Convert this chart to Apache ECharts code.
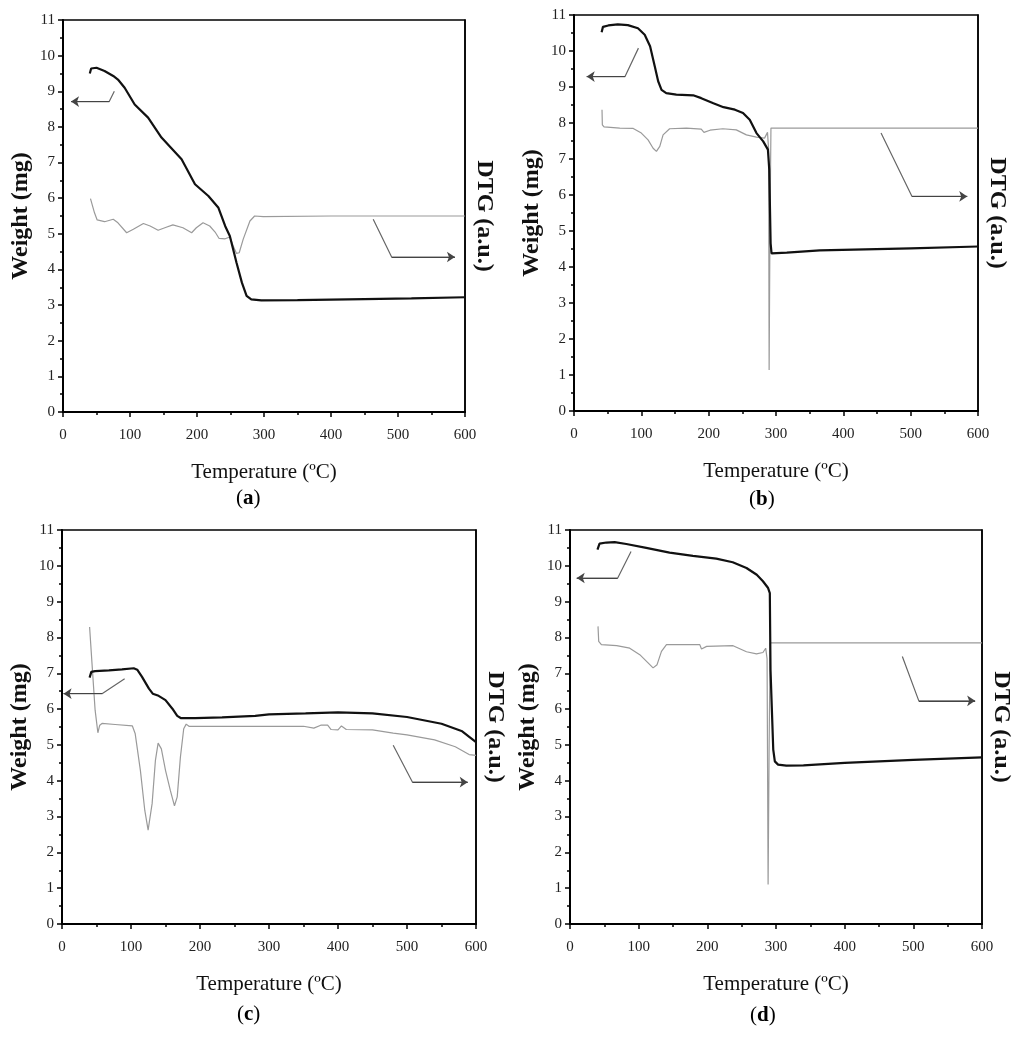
<!DOCTYPE html>
<html>
<head>
<meta charset="utf-8">
<script src="https://cdn.jsdelivr.net/npm/echarts@6/dist/echarts.min.js"></script>
<style>
  html, body { margin: 0; padding: 0; background: #fff; }
  #chart { width: 1024px; height: 1045px; }
</style>
</head>
<body>
<div id="chart"></div>
<script>
// [temperature °C, weight mg]
const tgA = [[40,9.50],[42,9.64],[50,9.66],[62,9.57],[75,9.43],[82,9.33],[92,9.10],[107,8.63],[127,8.26],[147,7.70],[177,7.09],[197,6.39],[217,6.06],[232,5.73],[242,5.22],[249,4.94],[259,4.19],[267,3.63],[274,3.26],[281,3.16],[296,3.13],[350,3.14],[450,3.17],[520,3.19],[600,3.22]];
const dtgA = [[41,5.99],[47,5.59],[51,5.39],[62,5.34],[75,5.41],[82,5.31],[95,5.03],[105,5.13],[120,5.29],[130,5.22],[142,5.10],[152,5.17],[164,5.25],[179,5.17],[192,5.03],[199,5.17],[209,5.31],[219,5.22],[227,5.05],[233,4.87],[242,4.86],[249,4.91],[254,4.66],[259,4.45],[263,4.47],[269,4.85],[279,5.36],[286,5.50],[299,5.48],[400,5.50],[600,5.50]];

const tgB = [[41,10.52],[43,10.67],[51,10.71],[65,10.74],[80,10.72],[95,10.63],[105,10.45],[113,10.13],[120,9.57],[125,9.16],[130,8.92],[137,8.83],[152,8.79],[177,8.77],[189,8.69],[207,8.55],[222,8.44],[239,8.37],[251,8.28],[261,8.09],[271,7.72],[281,7.49],[288,7.26],[290,6.70],[292,4.66],[293.4,4.38],[316,4.40],[365,4.46],[500,4.52],[600,4.57]];
const dtgB = [[41.6,8.37],[42.1,7.95],[44.6,7.89],[68,7.86],[88,7.85],[100,7.72],[110,7.53],[117.5,7.30],[122.4,7.21],[127.4,7.35],[132.3,7.67],[142,7.84],[167,7.86],[189,7.83],[193,7.74],[202,7.80],[221,7.84],[241,7.81],[256,7.67],[271,7.61],[283,7.58],[287.4,7.74],[289,7.26],[289.8,1.14],[291,5.0],[292.5,7.86],[600,7.86]];

const tgC = [[40,6.88],[42.5,7.04],[48,7.06],[68,7.08],[87,7.11],[104,7.14],[109,7.10],[116,6.90],[126,6.57],[131.5,6.43],[140,6.37],[150,6.25],[160,6.01],[167,5.81],[172,5.75],[193,5.75],[232,5.77],[280,5.81],[300,5.85],[353,5.88],[400,5.91],[450,5.88],[500,5.78],[550,5.59],[580,5.38],[600,5.08]];
const dtgC = [[40,8.29],[43.5,7.27],[48,5.97],[52,5.34],[54.7,5.55],[58,5.60],[77,5.57],[102,5.53],[106,5.32],[113.6,4.29],[120,3.17],[124.8,2.62],[130.6,3.36],[135.4,4.57],[139.3,5.05],[144,4.89],[150,4.29],[157,3.73],[163,3.30],[167,3.55],[171.6,4.66],[176.4,5.45],[180,5.58],[184,5.52],[208,5.52],[280,5.52],[350,5.52],[365,5.47],[375,5.55],[385,5.55],[390,5.43],[400,5.42],[405,5.53],[412,5.43],[450,5.42],[480,5.33],[500,5.28],[540,5.14],[570,4.95],[590,4.73],[600,4.71]];

const tgD = [[40,10.45],[43,10.62],[53,10.65],[65,10.66],[82,10.61],[111,10.50],[145,10.37],[179,10.28],[213,10.20],[237,10.10],[257,9.94],[272,9.75],[281,9.57],[288.5,9.38],[291,9.24],[292,7.10],[296,4.87],[298.3,4.54],[303,4.45],[315,4.42],[340,4.43],[400,4.50],[500,4.58],[600,4.65]];
const dtgD = [[40.8,8.31],[41.8,7.89],[45.7,7.80],[68,7.77],[87,7.70],[101.6,7.52],[113.7,7.29],[121,7.15],[126.8,7.24],[133.2,7.61],[140.5,7.80],[189,7.80],[191.5,7.68],[199,7.75],[237.5,7.77],[257,7.60],[271.6,7.54],[281,7.58],[285,7.70],[287,7.40],[288.5,1.1],[290,5.0],[291.5,7.85],[600,7.85]];

// pointer arrows: bend start, knee, arrow tip
const arrowsA = [[[76.6,9.0],[69,8.71],[12,8.71]], [[463,5.41],[490.5,4.35],[585,4.35]]];
const arrowsB = [[[95.7,10.08],[75.8,9.29],[18.9,9.29]], [[456,7.72],[502,5.96],[584,5.96]]];
const arrowsC = [[[90.8,6.85],[58,6.43],[2.3,6.43]], [[480,4.99],[508,3.96],[588,3.96]]];
const arrowsD = [[[88.9,10.40],[69.5,9.66],[9.8,9.66]], [[484,7.47],[508,6.23],[590,6.23]]];

const xTickMax = 600;
const yTickMax = 11;
const panelLetters = ['a', 'b', 'c', 'd'];

const panels = [
  { tg: tgA, dtg: dtgA, arrows: arrowsA, grid: { left: 63, top: 20, width: 402, height: 392 }, cap: [249, 500] },
  { tg: tgB, dtg: dtgB, arrows: arrowsB, grid: { left: 574, top: 15, width: 404, height: 396 }, cap: [762, 501] },
  { tg: tgC, dtg: dtgC, arrows: arrowsC, grid: { left: 62, top: 530, width: 414, height: 394 }, cap: [250, 1016] },
  { tg: tgD, dtg: dtgD, arrows: arrowsD, grid: { left: 570, top: 530, width: 412, height: 394 }, cap: [763, 1017] },
];

const serif = 'Liberation Serif';
const chart = echarts.init(document.getElementById('chart'));

const grids = [];
const xAxes = [];
const yAxes = [];
const series = [];
const graphics = [];

panels.forEach((p, i) => {
  grids.push(Object.assign({ show: true, borderColor: '#000', borderWidth: 1.5, backgroundColor: 'transparent' }, p.grid));

  xAxes.push({
    gridIndex: i, type: 'value', min: 0, max: xTickMax, interval: 100,
    name: 'Temperature (ºC)', nameLocation: 'middle', nameGap: 50,
    nameTextStyle: { fontFamily: serif, fontSize: 21, color: '#111' },
    axisLine: { lineStyle: { color: '#000', width: 2 } },
    axisTick: { length: 5, lineStyle: { color: '#000', width: 1.5 } },
    minorTick: { show: true, splitNumber: 2, length: 3, lineStyle: { color: '#000', width: 1.5 } },
    axisLabel: { fontFamily: serif, fontSize: 15, color: '#222', margin: 16 },
    splitLine: { show: false },
  });

  yAxes.push({
    gridIndex: i, type: 'value', min: 0, max: yTickMax, interval: 1, position: 'left',
    name: 'Weight (mg)', nameLocation: 'middle', nameGap: 30, nameRotate: 90,
    nameTextStyle: { fontFamily: serif, fontSize: 24, fontWeight: 'bold', color: '#111' },
    axisLine: { show: true, lineStyle: { color: '#000', width: 2 } },
    axisTick: { length: 5, lineStyle: { color: '#000', width: 1.5 } },
    minorTick: { show: true, splitNumber: 2, length: 3, lineStyle: { color: '#000', width: 1.5 } },
    axisLabel: { fontFamily: serif, fontSize: 15, color: '#222', margin: 8 },
    splitLine: { show: false },
  });
  yAxes.push({
    gridIndex: i, type: 'value', min: 0, max: yTickMax, interval: 1, position: 'right',
    name: 'DTG (a.u.)', nameLocation: 'middle', nameGap: 7, nameRotate: -90,
    nameTextStyle: { fontFamily: serif, fontSize: 24, fontWeight: 'bold', color: '#111' },
    axisLine: { show: true, lineStyle: { color: '#000', width: 1.5 } },
    axisTick: { show: false },
    axisLabel: { show: false },
    splitLine: { show: false },
  });

  series.push({
    type: 'line', name: 'DTG ' + panelLetters[i], xAxisIndex: i, yAxisIndex: i * 2 + 1,
    data: p.dtg, showSymbol: false, symbol: 'none', silent: true,
    lineStyle: { color: '#9a9a9a', width: 1.2 },
  });
  series.push({
    type: 'line', name: 'Weight ' + panelLetters[i], xAxisIndex: i, yAxisIndex: i * 2,
    data: p.tg, showSymbol: false, symbol: 'none', silent: true,
    lineStyle: { color: '#111', width: 2.2 },
  });

  p.arrows.forEach((pts) => {
    series.push({
      type: 'line', xAxisIndex: i, yAxisIndex: i * 2,
      data: pts, showSymbol: false, symbol: 'none', silent: true,
      lineStyle: { color: '#666', width: 1.2 },
      markLine: {
        silent: true, symbol: ['none', 'arrow'], symbolSize: 8,
        label: { show: false },
        lineStyle: { color: '#444', width: 1.2, type: 'solid' },
        data: [[{ coord: pts[1] }, { coord: pts[2] }]],
      },
    });
  });

  graphics.push({
    type: 'text', left: p.cap[0] - 13, top: p.cap[1] - 12,
    style: {
      text: '{n|(}{b|' + panelLetters[i] + '}{n|)}',
      rich: {
        n: { fontFamily: serif, fontSize: 21, color: '#111' },
        b: { fontFamily: serif, fontSize: 21, fontWeight: 'bold', color: '#111' },
      },
    },
  });
});

chart.setOption({
  animation: false,
  backgroundColor: '#fff',
  grid: grids,
  xAxis: xAxes,
  yAxis: yAxes,
  series,
  graphic: graphics,
});
</script>
</body>
</html>
